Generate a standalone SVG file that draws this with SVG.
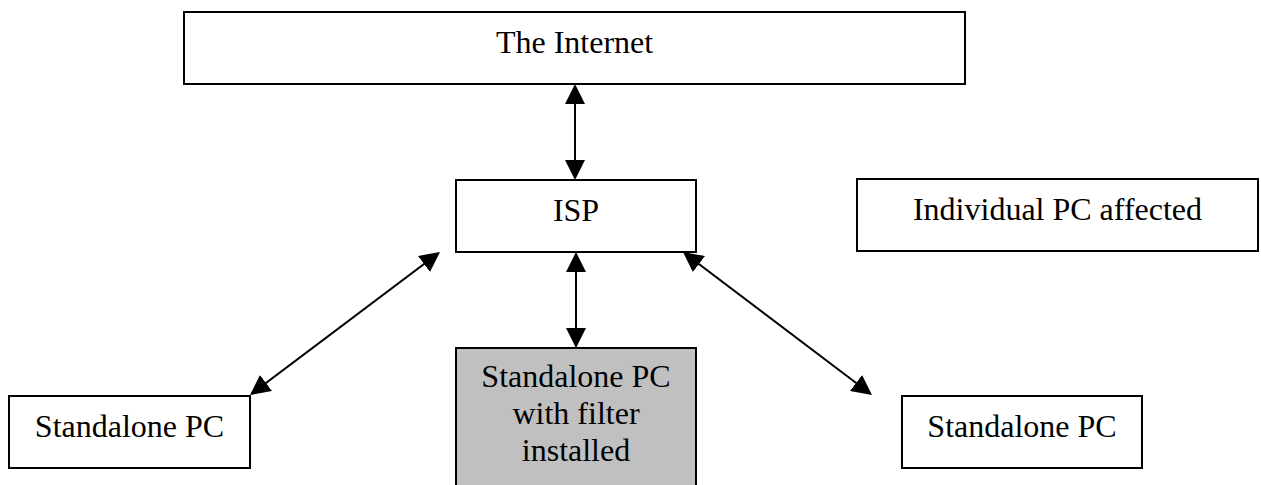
<svg xmlns="http://www.w3.org/2000/svg" width="1261" height="485" viewBox="0 0 1261 485">
  <style>
    .box { fill: #ffffff; stroke: #000000; stroke-width: 2; }
    .gray { fill: #c0c0c0; stroke: #000000; stroke-width: 2; }
    .lbl { font-family: "Liberation Serif", "Times New Roman", serif; font-size: 32px; fill: #000000; text-anchor: middle; }
    .conn { stroke: #000000; stroke-width: 2; fill: none; marker-start: url(#arr); marker-end: url(#arr); }
  </style>
  <defs>
    <marker id="arr" markerUnits="userSpaceOnUse" markerWidth="20" markerHeight="20" refX="18" refY="10" orient="auto-start-reverse" viewBox="0 0 20 20">
      <path d="M0,0 L20,10 L0,20 Z" fill="#000000"/>
    </marker>
  </defs>
  <rect width="1261" height="485" fill="#ffffff"/>

  <g id="connectors">
    <line class="conn" x1="575" y1="86" x2="575" y2="178"/>
    <line class="conn" x1="576" y1="254" x2="576" y2="346"/>
    <line class="conn" x1="438.4" y1="253.2" x2="251.6" y2="393.8"/>
    <line class="conn" x1="684.6" y1="253.2" x2="870.4" y2="393.8"/>
  </g>

  <g id="internet">
    <rect class="box" x="184" y="12" width="781" height="72"/>
    <text class="lbl" x="574.5" y="53">The Internet</text>
  </g>

  <g id="isp">
    <rect class="box" x="456" y="180" width="240" height="72"/>
    <text class="lbl" x="576" y="221">ISP</text>
  </g>

  <g id="individual">
    <rect class="box" x="857" y="179" width="401" height="72"/>
    <text class="lbl" x="1057.5" y="220">Individual PC affected</text>
  </g>

  <g id="standalone-left">
    <rect class="box" x="9" y="396" width="241" height="72"/>
    <text class="lbl" x="129.5" y="437">Standalone PC</text>
  </g>

  <g id="standalone-filter">
    <rect class="gray" x="456" y="348" width="240" height="150"/>
    <text class="lbl" x="576" y="387">Standalone PC</text>
    <text class="lbl" x="576" y="424">with filter</text>
    <text class="lbl" x="576" y="461">installed</text>
  </g>

  <g id="standalone-right">
    <rect class="box" x="902" y="396" width="240" height="72"/>
    <text class="lbl" x="1022" y="437">Standalone PC</text>
  </g>
</svg>
